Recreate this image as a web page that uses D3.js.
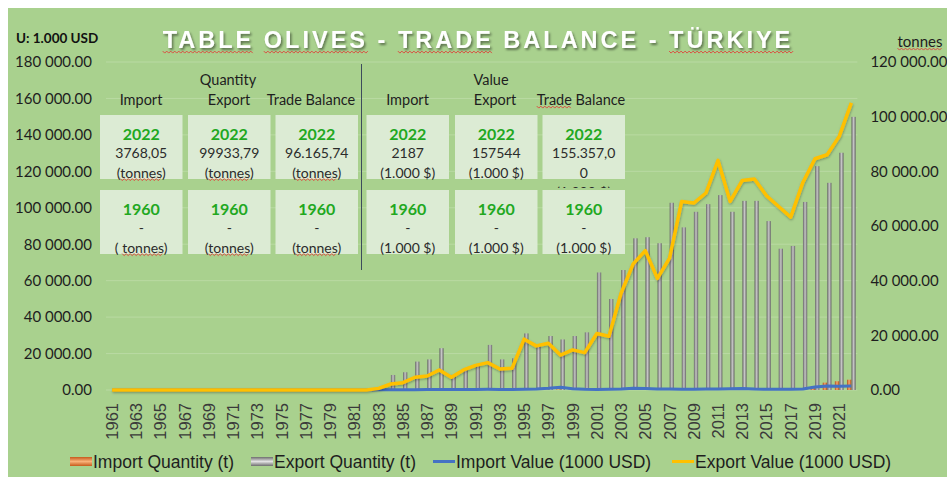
<!DOCTYPE html>
<html>
<head>
<meta charset="utf-8">
<script src="https://cdn.jsdelivr.net/npm/d3@7"></script>
<style>
  body { margin: 0; background: #fff; }
  svg { display: block; }
</style>
</head>
<body>
<div id="chart"></div>
<script>
// categories
var years = [1961, 1962, 1963, 1964, 1965, 1966, 1967, 1968, 1969, 1970,
    1971, 1972, 1973, 1974, 1975, 1976, 1977, 1978, 1979, 1980,
    1981, 1982, 1983, 1984, 1985, 1986, 1987, 1988, 1989, 1990,
    1991, 1992, 1993, 1994, 1995, 1996, 1997, 1998, 1999, 2000,
    2001, 2002, 2003, 2004, 2005, 2006, 2007, 2008, 2009, 2010,
    2011, 2012, 2013, 2014, 2015, 2016, 2017, 2018, 2019, 2020,
    2021, 2022];

// tonnes (right axis)
var importQty = [0, 0, 0, 0, 0, 0, 0, 0, 0, 0, 0, 0, 0, 0, 0, 0, 0, 0, 0, 0, 0, 0,
    0, 20, 30, 30, 40, 50, 30, 40, 50, 60,
    50, 60, 80, 100, 150, 200, 120, 100, 80, 100,
    150, 200, 200, 150, 150, 120, 150, 200, 250, 300,
    300, 250, 200, 250, 250, 300, 900, 2700, 3200, 3768.05];
var exportQty = [0, 0, 0, 0, 0, 0, 0, 0, 0, 0, 0, 0, 0, 0, 0, 0, 0, 0, 0, 0, 0, 0,
    800, 5500, 6500, 10400, 11200, 15300, 5500, 7300, 9100, 16500,
    11200, 11600, 20700, 16500, 19750, 18500, 19750, 21100, 43000, 33300,
    43900, 55500, 55900, 53700, 68500, 59500, 65200, 68000, 71300, 65200,
    69200, 69200, 61800, 51700, 52700, 68800, 81900, 75800, 86800, 99933.79];

// 1000 USD (left axis)
var importValue = [0, 0, 0, 0, 0, 0, 0, 0, 0, 0, 0, 0, 0, 0, 0, 0, 0, 0, 0, 0, 0, 0,
    100, 150, 200, 200, 250, 300, 250, 300, 300, 350,
    300, 300, 400, 500, 900, 1500, 700, 400, 300, 350,
    500, 900, 800, 500, 500, 400, 400, 500, 500, 700,
    800, 500, 400, 400, 400, 500, 1700, 2200, 2100, 2187];
var exportValue = [0, 0, 0, 0, 0, 0, 0, 0, 0, 0, 0, 0, 0, 0, 0, 0, 0, 0, 0, 0, 0, 0,
    900, 3300, 4000, 7000, 7700, 11000, 7000, 11000, 13500, 15000,
    11500, 11900, 27900, 24200, 25700, 19200, 22000, 20500, 31000, 29500,
    53100, 69200, 76500, 61200, 72400, 103500, 102600, 108100, 126000, 103500,
    115000, 115800, 106600, 100700, 94900, 113900, 126900, 129100, 139200, 157544];

// ticks
var leftTicks = [0, 20000, 40000, 60000, 80000, 100000, 120000, 140000, 160000, 180000];
var rightTicks = [0, 20000, 40000, 60000, 80000, 100000, 120000];
var yearLabels = [1961, 1963, 1965, 1967, 1969, 1971, 1973, 1975, 1977, 1979,
    1981, 1983, 1985, 1987, 1989, 1991, 1993, 1995, 1997, 1999,
    2001, 2003, 2005, 2007, 2009, 2011, 2013, 2015, 2017, 2019, 2021];
var seriesNames = ["Import Quantity (t)", "Export Quantity (t)", "Import Value (1000 USD)", "Export Value (1000 USD)"];

// info table texts
var colHeaders = ["Import", "Export", "Trade Balance", "Import", "Export", "Trade Balance"];
var groupHeaders = ["Quantity", "Value"];
var topYear = "2022", bottomYear = "1960";
var topValues = ["3768,05", "99933,79", "96.165,74", "2187", "157544", "155.357,00"];
var bottomValues = ["-", "-", "-", "-", "-", "-"];
var topUnits = ["(tonnes)", "(tonnes)", "(tonnes)", "(1.000 $)", "(1.000 $)", "(1.000 $)"];
var bottomUnits = ["( tonnes)", "(tonnes)", "(tonnes)", "(1.000 $)", "(1.000 $)", "(1.000 $)"];

var rows = years.map(function (y, i) {
    return { year: y, impQ: importQty[i], expQ: exportQty[i], impV: importValue[i], expV: exportValue[i] };
});

var W = 947, H = 477;
var margin = { top: 62, left: 106 },
    width = 751.4,
    height = 328;

var CAL = "Lato, 'Open Sans', sans-serif";
var ARIAL = "'Liberation Sans', Arial, sans-serif";

var svg = d3.select("#chart")
    .append("svg")
    .attr("width", W)
    .attr("height", H);

var defs = svg.append("defs");

// cylinder look for the bars (vertical=true for the legend swatches)
function cylinder(id, dark, light, vertical) {
    var gr = defs.append("linearGradient").attr("id", id)
        .attr("x1", 0).attr("x2", vertical ? 0 : 1).attr("y1", 0).attr("y2", vertical ? 1 : 0);
    gr.append("stop").attr("offset", "0%").attr("stop-color", dark);
    gr.append("stop").attr("offset", "50%").attr("stop-color", light);
    gr.append("stop").attr("offset", "100%").attr("stop-color", dark);
}
cylinder("gGray", "#666", "#c6c6c6");
cylinder("gOrange", "#b0501a", "#f7a86e");
cylinder("gGrayV", "#6e6e6e", "#e2e2e2", true);
cylinder("gOrangeV", "#c65a1c", "#f9b27a", true);

var tf = defs.append("filter").attr("id", "tshadow")
    .attr("x", "-5%").attr("y", "-30%").attr("width", "110%").attr("height", "170%");
tf.append("feDropShadow").attr("dx", 1.5).attr("dy", 2).attr("stdDeviation", 1.2)
    .attr("flood-color", "#000").attr("flood-opacity", 0.45);

var lf = defs.append("filter").attr("id", "lshadow")
    .attr("x", "-5%").attr("y", "-5%").attr("width", "110%").attr("height", "110%");
lf.append("feDropShadow").attr("dx", 0.5).attr("dy", 1.2).attr("stdDeviation", 0.8)
    .attr("flood-color", "#000").attr("flood-opacity", 0.3);

// background
svg.append("rect")
    .attr("x", 8).attr("y", 8)
    .attr("width", W - 8).attr("height", H - 8)
    .attr("fill", "#a9d18e");

var g = svg.append("g")
    .attr("transform", "translate(" + margin.left + "," + margin.top + ")");

// scales
var x = d3.scaleBand()
    .domain(years)
    .range([0, width])
    .paddingInner(0.25)
    .paddingOuter(0.125);

var xSub = d3.scaleBand()
    .domain(["imp", "exp"])
    .range([0, x.bandwidth()])
    .padding(0.04);

var yL = d3.scaleLinear().domain([0, 180000]).range([height, 0]);
var yR = d3.scaleLinear().domain([0, 120000]).range([height, 0]);

var fmt = function (v) { return d3.format(",.2f")(v).replace(/,/g, " "); };

// gridlines
g.selectAll(".grid")
    .data(leftTicks)
    .enter()
    .append("line")
    .attr("x1", 0).attr("x2", width)
    .attr("y1", function (d) { return yL(d); })
    .attr("y2", function (d) { return yL(d); })
    .attr("stroke", "#b9daa3")
    .attr("stroke-width", 1);

// left axis
g.append("g")
    .call(d3.axisLeft(yL).tickValues(leftTicks).tickSize(0).tickPadding(14).tickFormat(fmt))
    .call(function (a) { a.select(".domain").remove(); })
    .attr("font-family", CAL)
    .attr("font-size", 15)
    .selectAll("text").attr("fill", "#1e1e1e");

// right axis
g.append("g")
    .attr("transform", "translate(" + width + ",0)")
    .call(d3.axisRight(yR).tickValues(rightTicks).tickSize(0).tickPadding(13).tickFormat(fmt))
    .call(function (a) { a.select(".domain").remove(); })
    .attr("font-family", CAL)
    .attr("font-size", 15)
    .selectAll("text").attr("fill", "#1e1e1e");

// x axis
g.append("g")
    .attr("transform", "translate(0," + height + ")")
    .call(d3.axisBottom(x).tickValues(yearLabels).tickSize(0))
    .call(function (a) { a.select(".domain").remove(); })
    .attr("font-family", ARIAL)
    .attr("font-size", 16.5)
    .selectAll("text")
    .attr("fill", "#3a3a3a")
    .attr("transform", "rotate(-90)")
    .attr("x", -13)
    .attr("y", 0)
    .attr("dy", "0.36em")
    .style("text-anchor", "end");

// bars
g.selectAll(".exp")
    .data(rows)
    .enter()
    .append("rect")
    .attr("x", function (d) { return x(d.year) + xSub("exp"); })
    .attr("y", function (d) { return yR(d.expQ); })
    .attr("width", xSub.bandwidth())
    .attr("height", function (d) { return height - yR(d.expQ); })
    .attr("fill", "url(#gGray)");

g.selectAll(".imp")
    .data(rows)
    .enter()
    .append("rect")
    .attr("x", function (d) { return x(d.year) + xSub("imp"); })
    .attr("y", function (d) { return yR(d.impQ); })
    .attr("width", xSub.bandwidth())
    .attr("height", function (d) { return height - yR(d.impQ); })
    .attr("fill", "url(#gOrange)");

// lines
function valueLine(key) {
    return d3.line()
        .x(function (d) { return x(d.year) + x.bandwidth() / 2; })
        .y(function (d) { return yL(d[key]); });
}

g.append("path")
    .datum(rows)
    .attr("d", valueLine("impV"))
    .attr("fill", "none")
    .attr("stroke", "#4472c4")
    .attr("stroke-width", 3)
    .attr("stroke-linejoin", "round");

g.append("path")
    .datum(rows)
    .attr("d", valueLine("expV"))
    .attr("fill", "none")
    .attr("stroke", "#ffc000")
    .attr("stroke-width", 3.5)
    .attr("stroke-linejoin", "round")
    .attr("filter", "url(#lshadow)");

// spell-check squiggles as in the source screenshot
function squiggle(x1, x2, y) {
    var pts = [];
    for (var xx = x1, k = 0; xx <= x2; xx += 2, k++) pts.push([xx, y + (k % 2 ? 1.1 : -0.9)]);
    svg.append("path")
        .attr("d", d3.line()(pts))
        .attr("fill", "none")
        .attr("stroke", "#e0403a")
        .attr("stroke-width", 0.9);
}
function underWord(sel, i0, i1, dy) {
    var n = sel.node();
    var a = n.getStartPositionOfChar(i0), b = n.getEndPositionOfChar(i1);
    squiggle(a.x, b.x, a.y + dy);
}

// title
var title = svg.append("text")
    .attr("x", 478)
    .attr("y", 47.5)
    .attr("text-anchor", "middle")
    .attr("font-family", ARIAL)
    .attr("font-weight", "bold")
    .attr("font-size", 23.5)
    .attr("letter-spacing", 3)
    .attr("fill", "#fff")
    .attr("filter", "url(#tshadow)")
    .text("TABLE OLIVES - TRADE BALANCE - TÜRKIYE");
underWord(title, 0, 4, 4.5);
underWord(title, 6, 11, 4.5);
underWord(title, 15, 19, 4.5);
underWord(title, 31, 37, 4.5);

// unit labels
svg.append("text")
    .attr("x", 16).attr("y", 43)
    .attr("font-family", CAL)
    .attr("font-weight", "bold")
    .attr("font-size", 13.5)
    .attr("fill", "#111")
    .text("U: 1.000 USD");

var tonnes = svg.append("text")
    .attr("x", 920).attr("y", 47)
    .attr("text-anchor", "middle")
    .attr("font-family", CAL)
    .attr("font-size", 15)
    .attr("fill", "#1e1e1e")
    .text("tonnes");
underWord(tonnes, 0, 5, 2);

// info table
var boxX = [100, 188, 275.5, 366.5, 455, 542.5], boxW = 82.5, boxH = 64, rowY = [115, 190];
var headerX = [141, 229, 311, 407.5, 495, 581];

svg.append("line")
    .attr("x1", 361.5).attr("x2", 361.5)
    .attr("y1", 64).attr("y2", 270)
    .attr("stroke", "#3d4b5c")
    .attr("stroke-width", 1);

colHeaders.forEach(function (h, i) {
    var t = svg.append("text")
        .attr("x", headerX[i]).attr("y", 105)
        .attr("text-anchor", "middle")
        .attr("font-family", CAL)
        .attr("font-size", 14.5)
        .attr("fill", "#1e1e1e")
        .text(h);
    if (i === 5) underWord(t, 0, 4, 2);
});
svg.append("text").attr("x", 228).attr("y", 85)
    .attr("text-anchor", "middle").attr("font-family", CAL).attr("font-size", 14.5)
    .attr("fill", "#1e1e1e").text(groupHeaders[0]);
svg.append("text").attr("x", 491).attr("y", 85)
    .attr("text-anchor", "middle").attr("font-family", CAL).attr("font-size", 14.5)
    .attr("fill", "#1e1e1e").text(groupHeaders[1]);

defs.append("clipPath").attr("id", "boxclip")
    .append("rect").attr("x", 540).attr("y", 110).attr("width", 90).attr("height", 78);

function drawBox(col, r, year, value, unit) {
    var bx = boxX[col], by = rowY[r], cx = bx + boxW / 2;
    svg.append("rect")
        .attr("x", bx).attr("y", by)
        .attr("width", boxW).attr("height", boxH)
        .attr("fill", "#dcebd4");
    var tg = svg.append("g");
    if (col === 5 && r === 0) tg.attr("clip-path", "url(#boxclip)");
    tg.append("text")
        .attr("x", cx).attr("y", by + 25)
        .attr("text-anchor", "middle")
        .attr("font-family", CAL)
        .attr("font-weight", "bold")
        .attr("font-size", 16)
        .attr("fill", "#22a81f")
        .text(year);
    var lines = value.length > 9 ? [value.slice(0, 9), value.slice(9)] : [value];
    lines.forEach(function (s, k) {
        tg.append("text")
            .attr("x", cx).attr("y", by + 43 + k * 19.5)
            .attr("text-anchor", "middle")
            .attr("font-family", CAL)
            .attr("font-size", 14)
            .attr("fill", "#2b2b2b")
            .text(s);
    });
    var ut = tg.append("text")
        .attr("x", cx).attr("y", by + 62.5 + (lines.length - 1) * 19.5)
        .attr("text-anchor", "middle")
        .attr("font-family", CAL)
        .attr("font-size", 14)
        .attr("fill", "#2b2b2b")
        .text(unit);
    var p = unit.indexOf("tonnes");
    if (p >= 0) underWord(ut, p, p + 5, 2);
}

for (var c = 0; c < 6; c++) {
    drawBox(c, 0, topYear, topValues[c], topUnits[c]);
    drawBox(c, 1, bottomYear, bottomValues[c], bottomUnits[c]);
}

// legend
var legendX = [70, 251, 433, 672];
var legendKind = ["rect", "rect", "line", "line"];
var legendFill = ["url(#gOrangeV)", "url(#gGrayV)", "#4472c4", "#ffc000"];
var legend = svg.append("g").attr("transform", "translate(0,461.5)");
seriesNames.forEach(function (name, i) {
    if (legendKind[i] === "rect") {
        legend.append("rect")
            .attr("x", legendX[i]).attr("y", -4.5)
            .attr("width", 22).attr("height", 9)
            .attr("fill", legendFill[i]);
    } else {
        legend.append("line")
            .attr("x1", legendX[i]).attr("x2", legendX[i] + 22)
            .attr("y1", 0).attr("y2", 0)
            .attr("stroke", legendFill[i])
            .attr("stroke-width", 3);
    }
    legend.append("text")
        .attr("x", legendX[i] + 23)
        .attr("y", 0)
        .attr("dy", "0.35em")
        .attr("font-family", ARIAL)
        .attr("font-size", 17.5)
        .attr("fill", "#1e1e1e")
        .text(name);
});
</script>
</body>
</html>
